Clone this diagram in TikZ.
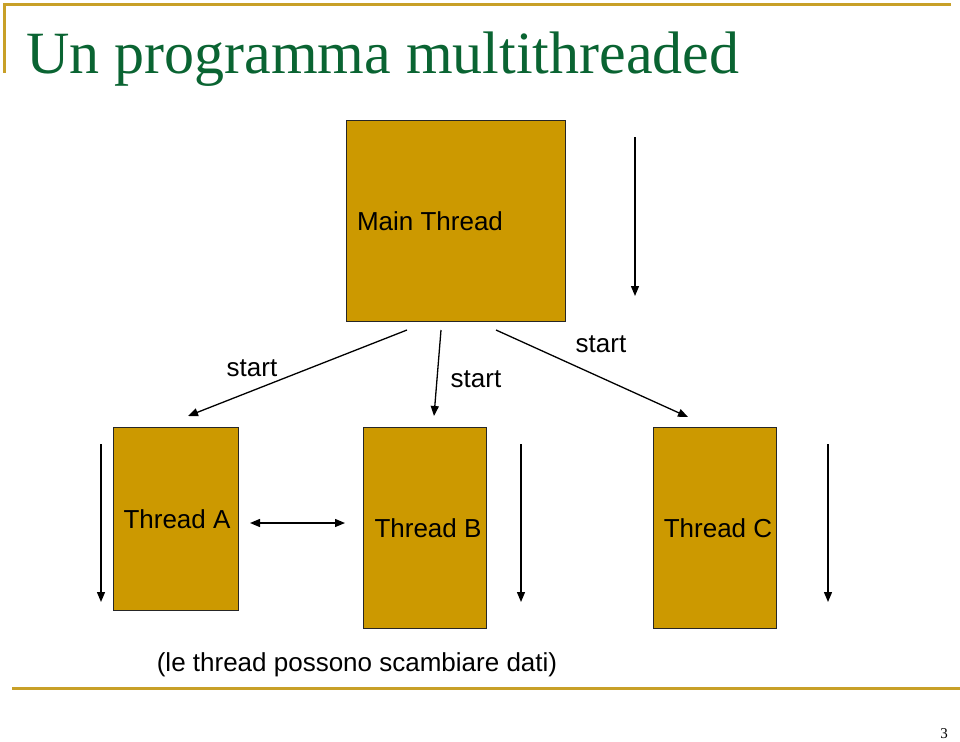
\documentclass[tikz,border=0pt]{standalone}
\usepackage{fontspec}
\setmainfont{Liberation Sans}
\newfontfamily\titlefont{Liberation Serif}
\usetikzlibrary{arrows.meta}
\definecolor{gold}{RGB}{204,153,0}
\definecolor{rulegold}{RGB}{200,160,40}
\definecolor{titlegreen}{RGB}{10,100,50}
\tikzset{
  box/.style={draw=black!85, line width=1.3pt, fill=gold, inner sep=0pt},
  lbl/.style={font=\fontsize{26}{30}\selectfont, inner sep=0pt},
  arr/.style={line width=1.3pt, -{Triangle[length=10pt,width=8pt]}},
  darr/.style={line width=1.3pt, {Triangle[length=10pt,width=8pt]}-{Triangle[length=10pt,width=8pt]}},
  rule/.style={draw=rulegold, line width=3pt}
}
\begin{document}
\begin{tikzpicture}[x=1pt,y=-1pt]
\useasboundingbox (0,0) rectangle (960,741);
% decorative rules
\coordinate (r2) at (951,5);
\coordinate (r3) at (4,73);
\draw[rule] (r3) -- (4,5) -- (r2);
\coordinate (b1) at (12,688);
\coordinate (b2) at (960,688);
\draw[rule] (b1) -- (b2);
% title
\node[anchor=base west, inner sep=0pt, text=titlegreen, font=\titlefont\fontsize{60}{66}\selectfont] (title) at (26,74) {Un programma multithreaded};
% boxes
\node[box, anchor=north west, minimum width=219pt, minimum height=201pt] (main) at (346,120) {};
\node[box, anchor=north west, minimum width=125pt, minimum height=183pt] (ta) at (113,427) {};
\node[box, anchor=north west, minimum width=123pt, minimum height=201pt] (tb) at (363,427) {};
\node[box, anchor=north west, minimum width=123pt, minimum height=201pt] (tc) at (653,427) {};
% box labels
\node[lbl] (mainlbl) at (430,221) {Main Thread};
\node[lbl] (talbl) at (177,519) {Thread A};
\node[lbl] (tblbl) at (428,528) {Thread B};
\node[lbl] (tclbl) at (718,528) {Thread C};
% time arrows
\coordinate (m1) at (635,137); \coordinate (m2) at (635,296);
\draw[arr] (m1) -- (m2);
\coordinate (a1) at (101,444); \coordinate (a2) at (101,602);
\draw[arr] (a1) -- (a2);
\coordinate (bb1) at (521,444); \coordinate (bb2) at (521,602);
\draw[arr] (bb1) -- (bb2);
\coordinate (c1) at (828,444); \coordinate (c2) at (828,602);
\draw[arr] (c1) -- (c2);
% start arrows
\coordinate (s1a) at (407,330); \coordinate (s1b) at (188,416);
\coordinate (s2a) at (441,330); \coordinate (s2b) at (434,416);
\coordinate (s3a) at (496,330); \coordinate (s3b) at (688,417);
\draw[arr] (s1a) -- (s1b);
\draw[arr] (s2a) -- (s2b);
\draw[arr] (s3a) -- (s3b);
\node[lbl] (st1) at (252,368) {start};
\node[lbl] (st2) at (476,379) {start};
\node[lbl] (st3) at (601,344) {start};
% data exchange
\coordinate (d1) at (250,523); \coordinate (d2) at (345,523);
\draw[darr] (d1) -- (d2);
\node[lbl] (cap) at (357,665) {(le thread possono scambiare dati)};
% page number
\node[inner sep=0pt, font=\titlefont\fontsize{15}{18}\selectfont] (pg) at (944,734) {3};
\end{tikzpicture}
\end{document}
